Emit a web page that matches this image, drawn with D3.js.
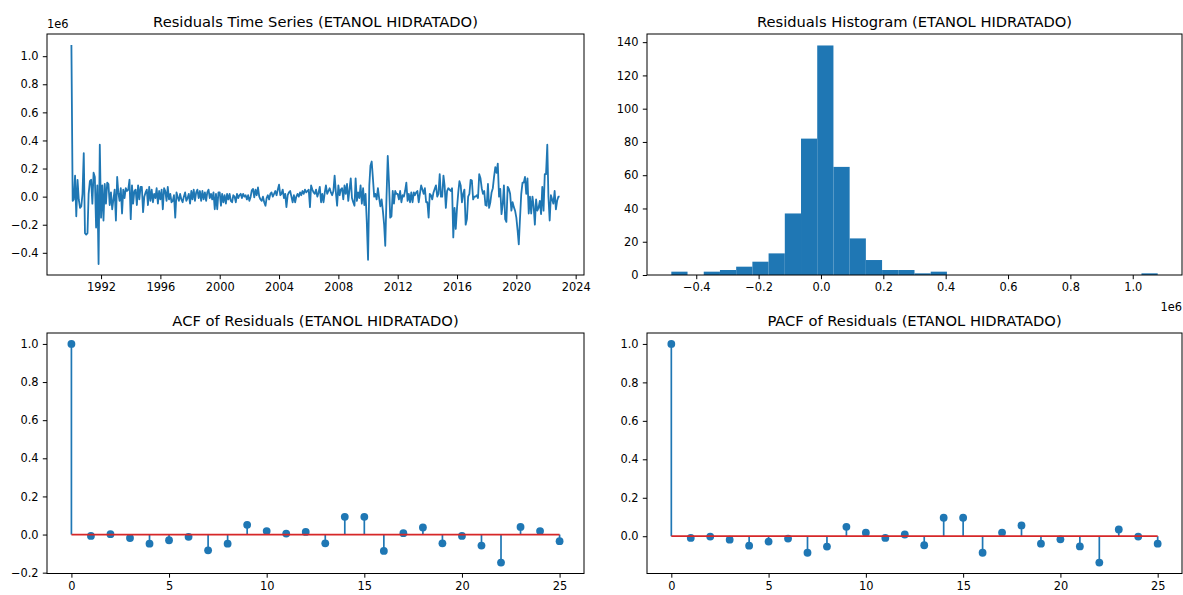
<!DOCTYPE html>
<html>
<head>
<meta charset="utf-8">
<script src="https://cdn.jsdelivr.net/npm/d3@7"></script>
<style>
  body { margin: 0; background: #fff; }
  svg { display: block; font-family: "DejaVu Sans", sans-serif; }
  .title { font-size: 14.7px; text-anchor: middle; fill: #000; }
  .offset { font-size: 11.4px; fill: #000; }
</style>
</head>
<body>
<div id="chart"></div>
<script>
"use strict";

// == DATA ==
var seriesName = "ETANOL HIDRATADO";
var startMonth = "1990-01";

// monthly residuals (units of 1e6), one row per year 1990..2022
var residuals = [
  1.08, -0.03, -0.02, 0.15, -0.14, 0.12, -0.02, -0.08, -0.07, 0.02, 0.31, -0.26,   // 1990
  -0.27, -0.26, 0.02, 0.11, 0.12, -0.05, 0.17, 0.14, -0.22, 0.08, -0.48, 0.37,     // 1991
  -0.15, 0.08, -0.17, 0.09, -0.05, 0.10, 0.09, -0.06, 0.03, -0.09, -0.02, 0.05,    // 1992
  -0.17, 0.14, 0.03, -0.03, 0.06, -0.12, 0.05, -0.01, 0.06, 0.04, 0.05, 0.12,      // 1993
  -0.16, 0.08, -0.05, 0.04, 0.05, -0.06, 0.08, -0.02, 0.07, 0.07, -0.11, 0.00,     // 1994
  0.03, 0.05, -0.06, 0.07, -0.03, 0.05, -0.04, 0.02, -0.01, 0.06, -0.05, 0.04,     // 1995
  -0.02, 0.05, -0.09, 0.06, 0.04, -0.03, 0.07, -0.02, 0.02, -0.04, -0.03, 0.01,    // 1996
  -0.15, 0.03, 0.00, -0.03, 0.02, -0.02, -0.04, 0.00, 0.03, -0.03, -0.01, 0.02,    // 1997
  -0.05, 0.04, -0.02, 0.05, -0.03, 0.03, 0.05, -0.01, 0.04, -0.03, 0.04, -0.02,    // 1998
  0.03, -0.03, 0.03, 0.05, -0.01, 0.02, -0.02, 0.03, -0.09, 0.02, -0.09, 0.03,     // 1999
  0.03, -0.065, 0.02, -0.04, 0.01, -0.05, 0.02, -0.02, 0.02, -0.03, -0.04, 0.01,   // 2000
  0.00, -0.04, 0.02, -0.01, 0.01, 0.02, -0.01, 0.02, 0.00, 0.01, -0.02, 0.01,      // 2001
  -0.03, 0.00, 0.045, 0.055, -0.005, 0.05, 0.01, 0.065, 0.00, -0.02, -0.03, 0.00,  // 2002
  -0.04, -0.065, -0.01, 0.01, -0.02, 0.02, 0.03, 0.00, 0.02, 0.04, 0.01, 0.05,     // 2003
  0.085, 0.01, 0.02, 0.05, -0.01, 0.02, -0.075, 0.01, 0.03, 0.04, 0.00, -0.04,     // 2004
  0.01, -0.04, 0.00, 0.02, 0.00, 0.03, 0.01, 0.04, 0.02, 0.05, 0.03, 0.04,         // 2005
  0.05, -0.075, 0.08, 0.05, 0.03, 0.02, 0.05, 0.00, 0.03, 0.07, -0.04, 0.02,       // 2006
  -0.04, 0.03, 0.08, 0.02, 0.04, 0.06, 0.03, 0.01, 0.04, 0.15, 0.03, -0.065,       // 2007
  0.08, 0.01, 0.05, 0.06, -0.02, 0.08, 0.02, 0.09, -0.03, 0.05, 0.13, -0.01,       // 2008
  -0.04, -0.065, 0.13, -0.03, 0.03, -0.01, 0.08, -0.05, 0.06, -0.06, 0.02, -0.18,  // 2009
  -0.45, 0.08, 0.22, 0.25, 0.13, 0.00, 0.02, -0.02, 0.06, -0.01, -0.07, -0.02,     // 2010
  -0.10, -0.20, -0.35, 0.00, 0.29, 0.10, -0.15, -0.14, 0.04, -0.05, 0.04, 0.02,    // 2011
  0.02, -0.02, 0.04, -0.04, 0.01, 0.00, 0.04, 0.10, -0.03, 0.02, -0.04, 0.03,      // 2012
  -0.04, 0.03, 0.01, 0.03, 0.04, -0.04, 0.02, 0.08, 0.05, 0.02, 0.06, -0.04,       // 2013
  -0.04, -0.15, 0.02, 0.01, -0.02, 0.03, 0.055, 0.08, 0.00, 0.02, 0.16, 0.00,      // 2014
  0.00, 0.15, 0.08, -0.08, 0.04, 0.06, 0.05, 0.04, 0.06, -0.29, -0.08, -0.23,      // 2015
  -0.08, 0.03, 0.11, 0.08, -0.04, 0.02, 0.05, -0.20, -0.16, 0.00, 0.02, 0.12,      // 2016
  0.115, -0.02, 0.00, 0.00, 0.01, -0.01, 0.16, 0.13, 0.06, 0.02, 0.04, -0.06,      // 2017
  -0.065, 0.09, -0.08, -0.04, 0.03, 0.06, 0.14, 0.21, 0.17, 0.235, 0.00, 0.055,    // 2018
  -0.125, -0.05, 0.08, -0.16, -0.18, 0.07, 0.055, 0.02, -0.10, -0.04, -0.075, -0.10, // 2019
  -0.15, -0.24, -0.34, -0.15, 0.02, 0.10, 0.10, 0.14, 0.02, 0.13, -0.12, 0.00,     // 2020
  -0.12, 0.00, -0.065, -0.20, -0.02, -0.10, -0.08, -0.03, -0.125, 0.07, -0.10, 0.16, // 2021
  0.16, 0.37, 0.00, -0.17, 0.01, -0.02, -0.05, 0.04, -0.09, -0.03, 0.00, 0.00      // 2022
];

// histogram counts, 30 equal bins over the residual range
var histCounts = [2, 0, 2, 3, 5, 8, 13, 37, 82, 138, 65, 22, 9, 3, 3,
                  1, 2, 0, 0, 0, 0, 0, 0, 0, 0, 0, 0, 0, 0, 1];

// lags 0..25
var acfValues = [1.0, -0.007, 0.002, -0.018, -0.048, -0.030, -0.012, -0.083, -0.048,
                 0.051, 0.018, 0.005, 0.014, -0.046, 0.093, 0.093, -0.086, 0.007,
                 0.037, -0.046, -0.007, -0.058, -0.147, 0.040, 0.018, -0.035];
var pacfValues = [1.0, -0.009, -0.002, -0.018, -0.049, -0.028, -0.012, -0.086, -0.054,
                  0.049, 0.018, -0.009, 0.009, -0.047, 0.096, 0.096, -0.086, 0.019,
                  0.056, -0.039, -0.016, -0.053, -0.137, 0.035, -0.002, -0.039];

var tsYTicks = [-0.4, -0.2, 0.0, 0.2, 0.4, 0.6, 0.8, 1.0];
var histXTicks = [-0.4, -0.2, 0.0, 0.2, 0.4, 0.6, 0.8, 1.0];
var histYTicks = [0, 20, 40, 60, 80, 100, 120, 140];
var lagTicks = [0, 5, 10, 15, 20, 25];
var corrTicks = [-0.2, 0.0, 0.2, 0.4, 0.6, 0.8, 1.0];

// == BOILERPLATE ==
var W = 1183, H = 595;
var C0 = "#1f77b4", C3 = "#d62728";
var tick = 4.2, tickPad = 4.2;

var svg = d3.select("#chart")
            .append("svg")
            .attr("width", W)
            .attr("height", H);

svg.append("rect").attr("width", W).attr("height", H).attr("fill", "#fff");

var panels = {
  ts:   { left: 47,  top: 34,  width: 537, height: 241 },
  hist: { left: 647, top: 34,  width: 535, height: 241 },
  acf:  { left: 47,  top: 333, width: 537, height: 240.5 },
  pacf: { left: 647, top: 333, width: 535, height: 240.5 }
};

// matplotlib style 5% margins
var pad = function(ext) {
  var m = (ext[1] - ext[0]) * 0.05;
  return [ext[0] - m, ext[1] + m];
};

var inside = function(ticks, dom) {
  var lo = Math.min(dom[0], dom[1]), hi = Math.max(dom[0], dom[1]);
  return ticks.filter(function(t) { return t >= lo - 1e-9 && t <= hi + 1e-9; });
};

var styleAxis = function(g) {
  g.select(".domain").remove();
  g.attr("font-family", null).attr("font-size", null);
  g.selectAll(".tick line").attr("stroke", "#000").attr("stroke-width", 1);
  g.selectAll(".tick text").attr("fill", "#000").attr("font-size", "11.4px");
};

var makePanel = function(p, title) {
  var g = svg.append("g").attr("transform", "translate(" + p.left + "," + p.top + ")");
  g.append("text")
   .attr("class", "title")
   .attr("x", p.width / 2)
   .attr("y", -7.3)
   .text(title);
  return g;
};

var frame = function(g, p) {
  g.append("rect")
   .attr("width", p.width)
   .attr("height", p.height)
   .attr("fill", "none")
   .attr("stroke", "#000")
   .attr("stroke-width", 1);
};

var addAxes = function(g, p, x, y, xTicks, yTicks, xFmt, yFmt) {
  g.append("g")
   .attr("transform", "translate(0," + p.height + ")")
   .call(d3.axisBottom(x).tickValues(xTicks).tickFormat(xFmt)
           .tickSize(tick).tickPadding(tickPad).tickSizeOuter(0))
   .call(styleAxis);
  g.append("g")
   .call(d3.axisLeft(y).tickValues(yTicks).tickFormat(yFmt)
           .tickSize(tick).tickPadding(tickPad).tickSizeOuter(0))
   .call(styleAxis);
};

var f1 = d3.format(".1f");

// == TIME SERIES ==
var t0 = d3.timeParse("%Y-%m")(startMonth);
var tsData = residuals.map(function(v, i) {
  return { date: d3.timeMonth.offset(t0, i), value: v };
});

var pts = panels.ts;
var gts = makePanel(pts, "Residuals Time Series (" + seriesName + ")");

var dateExt = d3.extent(tsData, function(d) { return +d.date; });
var tsX = d3.scaleTime()
            .domain(pad(dateExt).map(function(v) { return new Date(v); }))
            .range([0, pts.width]);
var tsY = d3.scaleLinear()
            .domain(pad(d3.extent(residuals)))
            .range([pts.height, 0]);

var yearTicks = d3.timeYear.every(4).range(tsX.domain()[0], tsX.domain()[1]);
addAxes(gts, pts, tsX, tsY, yearTicks, inside(tsYTicks, tsY.domain()),
        d3.timeFormat("%Y"), f1);

gts.append("path")
   .datum(tsData)
   .attr("fill", "none")
   .attr("stroke", C0)
   .attr("stroke-width", 1.8)
   .attr("stroke-linejoin", "round")
   .attr("d", d3.line()
                .x(function(d) { return tsX(d.date); })
                .y(function(d) { return tsY(d.value); }));

frame(gts, pts);

gts.append("text")
   .attr("class", "offset")
   .attr("x", 0)
   .attr("y", -6)
   .text("1e6");

// == HISTOGRAM ==
var ph = panels.hist;
var gh = makePanel(ph, "Residuals Histogram (" + seriesName + ")");

var rExt = d3.extent(residuals);
var binW = (rExt[1] - rExt[0]) / histCounts.length;
var bins = histCounts.map(function(c, i) {
  return { x0: rExt[0] + i * binW, x1: rExt[0] + (i + 1) * binW, count: c };
});

var hX = d3.scaleLinear().domain(pad(rExt)).range([0, ph.width]);
var hY = d3.scaleLinear().domain([0, d3.max(histCounts) * 1.05]).range([ph.height, 0]);

addAxes(gh, ph, hX, hY, histXTicks, histYTicks, f1, d3.format("d"));

gh.selectAll("rect.bar")
  .data(bins.filter(function(b) { return b.count > 0; }))
  .enter()
  .append("rect")
  .attr("class", "bar")
  .attr("x", function(b) { return hX(b.x0); })
  .attr("width", function(b) { return hX(b.x1) - hX(b.x0); })
  .attr("y", function(b) { return hY(b.count); })
  .attr("height", function(b) { return hY(0) - hY(b.count); })
  .attr("fill", C0);

frame(gh, ph);

gh.append("text")
  .attr("class", "offset")
  .attr("x", ph.width)
  .attr("y", ph.height + 36)
  .attr("text-anchor", "end")
  .text("1e6");

// == ACF / PACF stems ==
var stemPanel = function(p, values, title) {
  var g = makePanel(p, title);
  var lags = d3.range(values.length);
  var x = d3.scaleLinear().domain(pad([0, lags.length - 1])).range([0, p.width]);
  var y = d3.scaleLinear().domain(pad(d3.extent(values))).range([p.height, 0]);

  addAxes(g, p, x, y, lagTicks, inside(corrTicks, y.domain()), d3.format("d"), f1);

  g.selectAll("line.stem")
   .data(values)
   .enter()
   .append("line")
   .attr("class", "stem")
   .attr("x1", function(d, i) { return x(i); })
   .attr("x2", function(d, i) { return x(i); })
   .attr("y1", y(0))
   .attr("y2", function(d) { return y(d); })
   .attr("stroke", C0)
   .attr("stroke-width", 1.7);

  g.selectAll("circle")
   .data(values)
   .enter()
   .append("circle")
   .attr("cx", function(d, i) { return x(i); })
   .attr("cy", function(d) { return y(d); })
   .attr("r", 3.9)
   .attr("fill", C0);

  g.append("line")
   .attr("x1", x(0))
   .attr("x2", x(lags.length - 1))
   .attr("y1", y(0))
   .attr("y2", y(0))
   .attr("stroke", C3)
   .attr("stroke-width", 1.7);

  frame(g, p);
};

stemPanel(panels.acf, acfValues, "ACF of Residuals (" + seriesName + ")");
stemPanel(panels.pacf, pacfValues, "PACF of Residuals (" + seriesName + ")");
</script>
</body>
</html>
